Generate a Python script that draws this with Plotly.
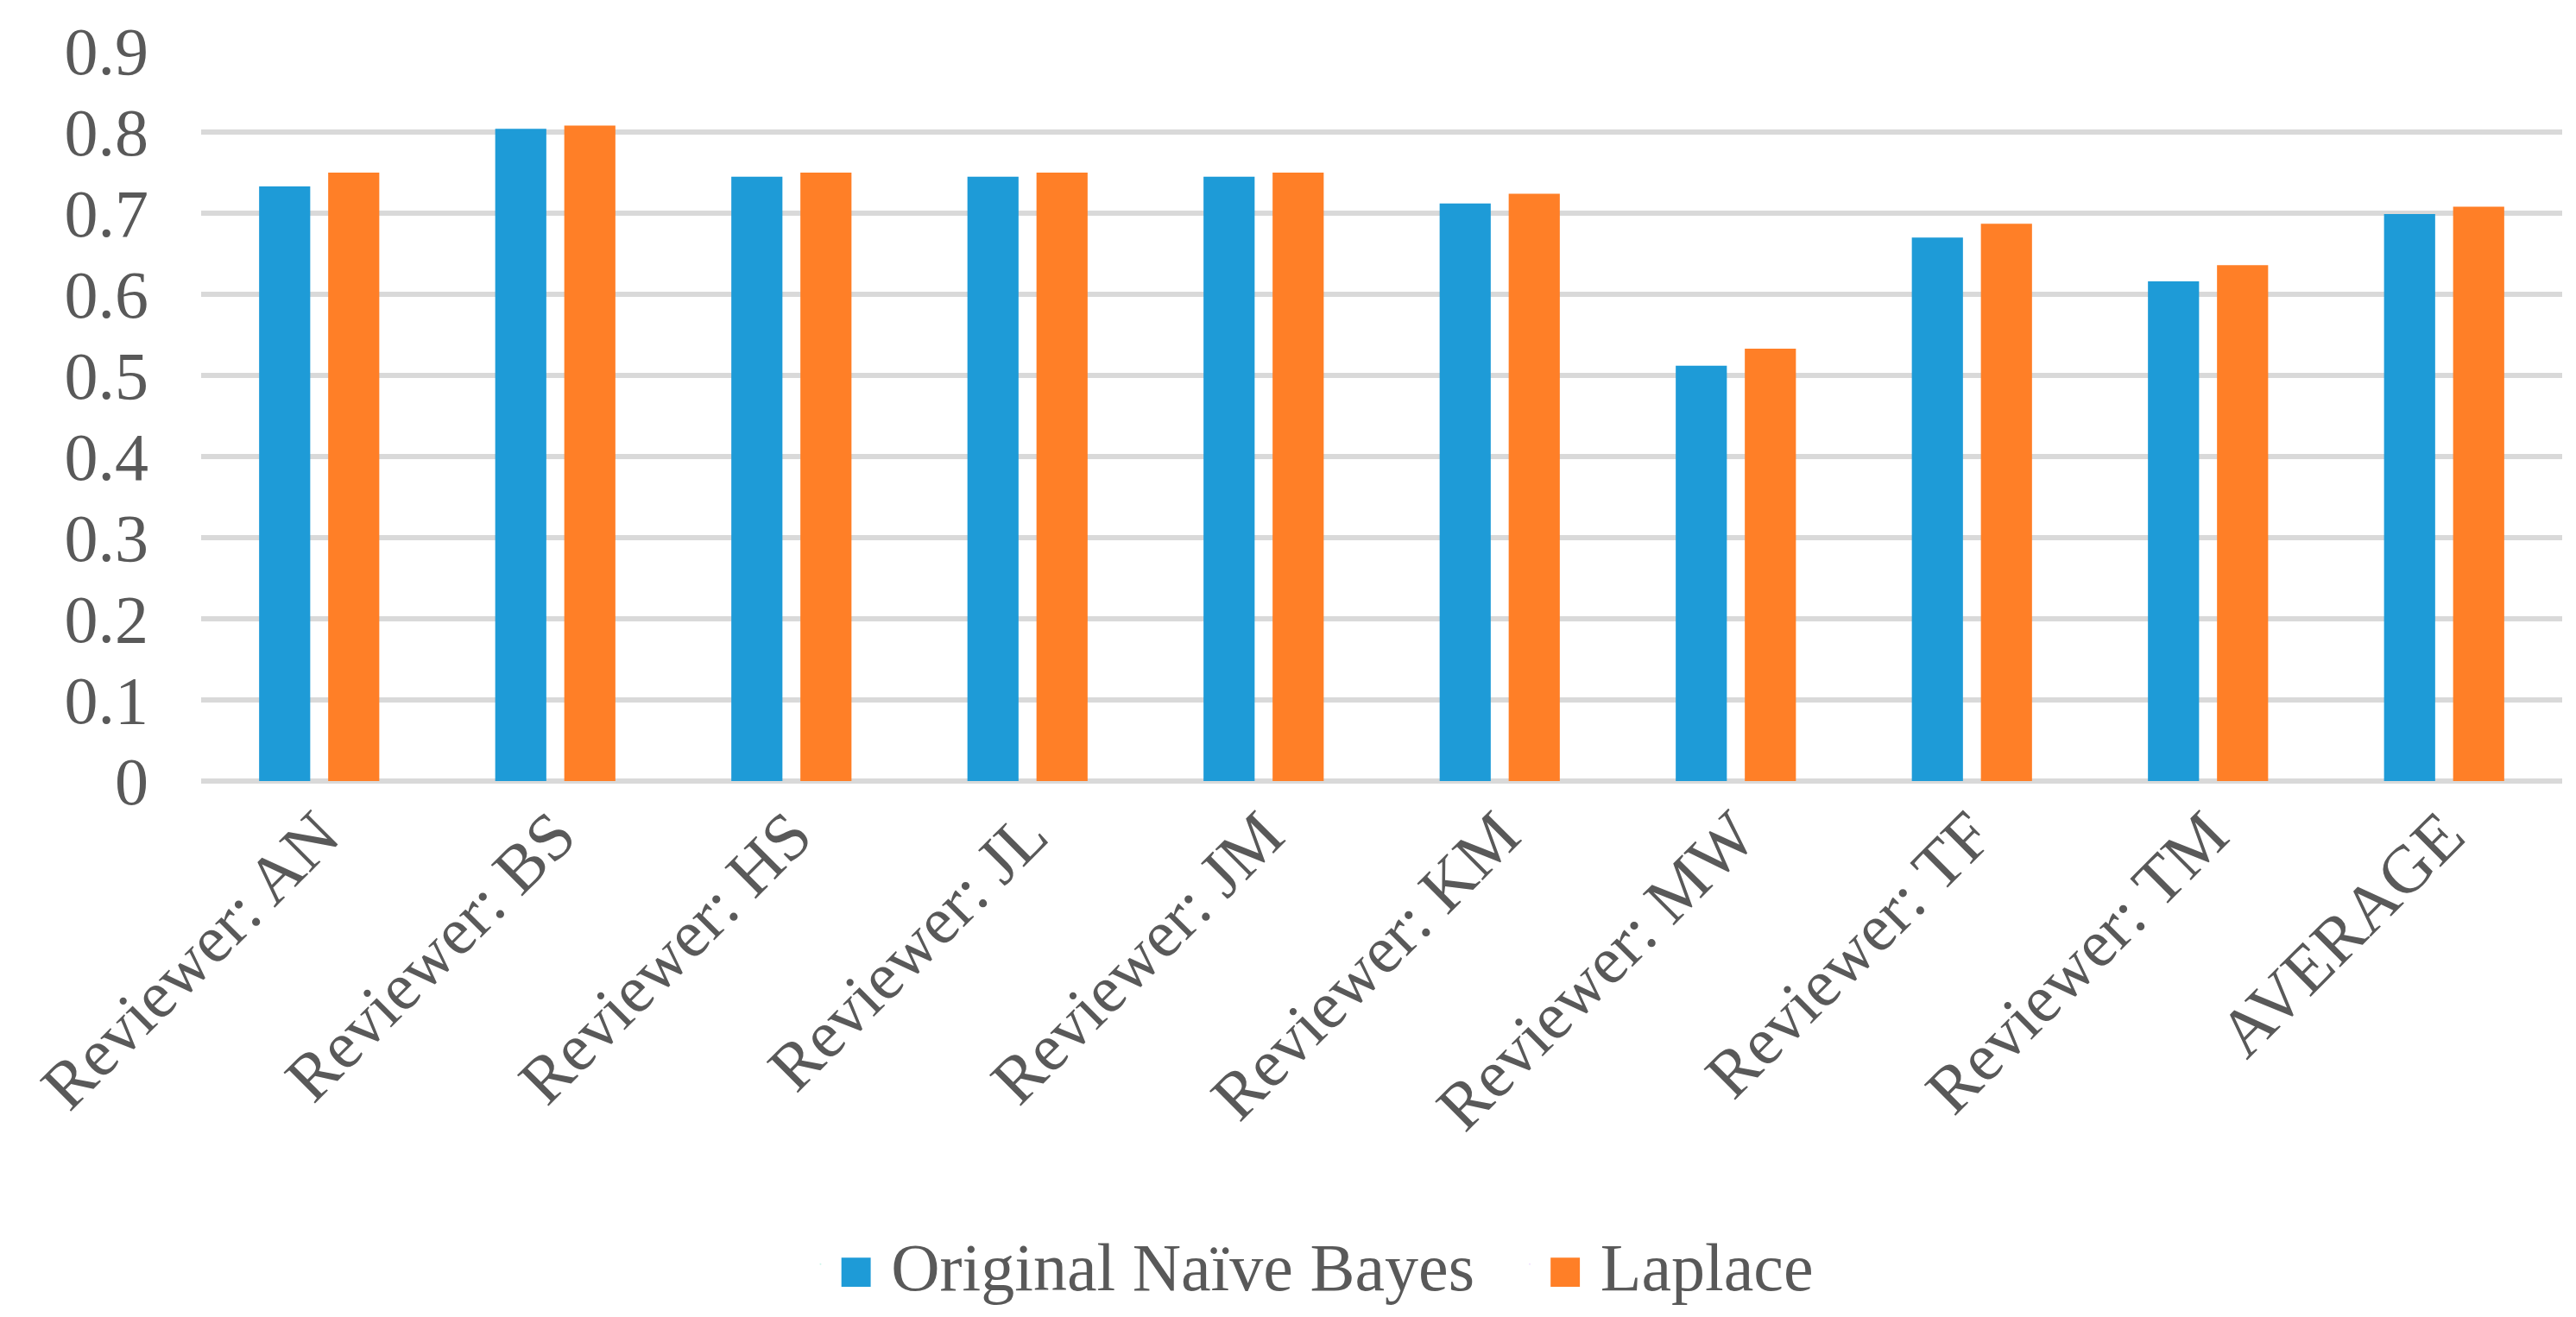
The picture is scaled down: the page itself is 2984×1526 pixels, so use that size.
import plotly.graph_objects as go

reviewers = ["Reviewer: AN", "Reviewer: BS", "Reviewer: HS", "Reviewer: JL", "Reviewer: JM",
             "Reviewer: KM", "Reviewer: MW", "Reviewer: TF", "Reviewer: TM", "AVERAGE"]
naive_bayes = [0.733, 0.804, 0.745, 0.745, 0.745, 0.712, 0.512, 0.670, 0.616, 0.699]
laplace = [0.750, 0.808, 0.750, 0.750, 0.750, 0.724, 0.533, 0.687, 0.636, 0.708]
y_ticks = [0, 0.1, 0.2, 0.3, 0.4, 0.5, 0.6, 0.7, 0.8, 0.9]

FONT = "Liberation Serif"
TXT = "#595959"
BLUE = "#1E9BD7"
ORANGE = "#FF7F27"

fig = go.Figure()
fig.add_trace(go.Bar(x=reviewers, y=naive_bayes, name="Original Naïve Bayes",
                     marker=dict(color=BLUE, line=dict(width=0)), showlegend=False))
fig.add_trace(go.Bar(x=reviewers, y=laplace, name="Laplace",
                     marker=dict(color=ORANGE, line=dict(width=0)), showlegend=False))

# legend entries: plotly caps swatch size, so the square is drawn as a coloured glyph
for name, col in [("Original Naïve Bayes  ", BLUE), ("Laplace", ORANGE)]:
    fig.add_trace(go.Scatter(x=[None], y=[None], mode="markers",
                             name=f"<span style='color:{col};font-size:70px'>■</span> {name}",
                             marker=dict(size=1, opacity=0)))

fig.update_layout(
    width=2984, height=1526,
    margin=dict(l=225, r=24, t=51, b=618),
    paper_bgcolor="white", plot_bgcolor="white",
    barmode="group", bargap=0.415, bargroupgap=0.26,
    font=dict(family=FONT, size=76, color=TXT),
    legend=dict(orientation="h", x=0.47, xanchor="center", y=-0.662, yanchor="middle",
                font=dict(family=FONT, size=78, color=TXT), itemwidth=30,
                traceorder="normal"),
)
fig.update_xaxes(tickangle=-45, tickfont=dict(family=FONT, size=78, color=TXT),
                 showline=False, showgrid=False, ticks="", automargin=False)
fig.update_yaxes(range=[0, 0.9], tickvals=y_ticks, ticktext=[f"{v:g}" for v in y_ticks],
                 showgrid=True, gridcolor="#D9D9D9", gridwidth=6,
                 zeroline=True, zerolinecolor="#D9D9D9", zerolinewidth=6,
                 showline=False, ticks="", ticklabelstandoff=60, automargin=False,
                 tickfont=dict(family=FONT, size=78, color=TXT))

fig.write_html("out.html")
